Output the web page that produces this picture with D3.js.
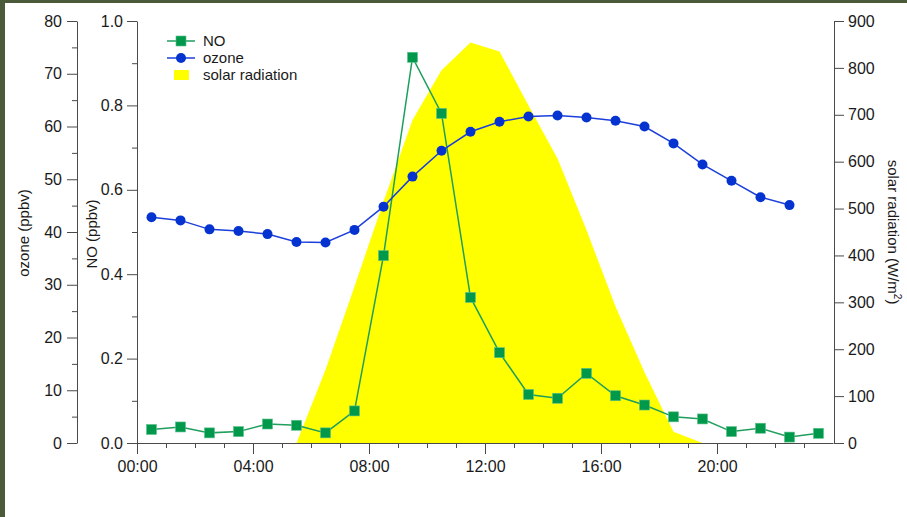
<!DOCTYPE html>
<html>
<head>
<meta charset="utf-8">
<script src="https://cdn.jsdelivr.net/npm/d3@7"></script>
<style>
  html, body { margin: 0; padding: 0; background: #ffffff; overflow: hidden; }
  svg { display: block; }
  text { font-family: "Liberation Sans", Arial, Helvetica, sans-serif; fill: #1a1a1a; }
  .axis path, .axis line { stroke: #4a4a4a; stroke-width: 1; }
</style>
</head>
<body>
<script>
// Hourly means, plotted at the half hour
const noHours = [0.5,1.5,2.5,3.5,4.5,5.5,6.5,7.5,8.5,9.5,10.5,11.5,12.5,13.5,14.5,15.5,16.5,17.5,18.5,19.5,20.5,21.5,22.5,23.5];
const noValues = [0.032,0.038,0.024,0.027,0.045,0.042,0.024,0.076,0.444,0.914,0.781,0.345,0.214,0.115,0.106,0.165,0.112,0.090,0.062,0.057,0.027,0.035,0.014,0.023];

const ozoneHours = [0.5,1.5,2.5,3.5,4.5,5.5,6.5,7.5,8.5,9.5,10.5,11.5,12.5,13.5,14.5,15.5,16.5,17.5,18.5,19.5,20.5,21.5,22.5];
const ozoneValues = [42.8,42.2,40.5,40.2,39.6,38.1,38.0,40.4,44.8,50.5,55.4,59.0,60.9,61.9,62.1,61.7,61.1,60.0,56.8,52.8,49.7,46.6,45.1];

const solarHours = [5.5,6.5,7.5,8.5,9.5,10.5,11.5,12.5,13.5,14.5,15.5,16.5,17.5,18.5,19.5];
const solarValues = [0,156,334,515,689,795,854,835,720,607,454,291,151,24,0];

const xTickHours = [0,4,8,12,16,20];
const xTickLabels = ["00:00","04:00","08:00","12:00","16:00","20:00"];
const ozoneTicks = [0,10,20,30,40,50,60,70,80];
const noTicks = [0.0,0.2,0.4,0.6,0.8,1.0];
const solarTicks = [0,100,200,300,400,500,600,700,800,900];

const W = 907, H = 517;
const plotLeft = 137, plotRight = 833, plotTop = 21, plotBottom = 443;

const svg = d3.select("body").append("svg").attr("width", W).attr("height", H);

// page frame strips
svg.append("rect").attr("x", 0).attr("y", 0).attr("width", W).attr("height", 3).attr("fill", "#4b5a39");
svg.append("rect").attr("x", 0).attr("y", 0).attr("width", 5).attr("height", H).attr("fill", "#4b5a39");

const x = d3.scaleLinear().domain([0, 24]).range([plotLeft, plotRight]);
const yNO = d3.scaleLinear().domain([0, 1]).range([plotBottom, plotTop]);
const yO3 = d3.scaleLinear().domain([0, 80]).range([plotBottom, plotTop]);
const ySol = d3.scaleLinear().domain([0, 900]).range([plotBottom, plotTop]);

// solar radiation filled area
svg.append("path")
  .datum(solarHours.map((h, i) => [h, solarValues[i]]))
  .attr("fill", "#ffff00")
  .attr("d", d3.area().x(d => x(d[0])).y0(plotBottom).y1(d => ySol(d[1])));

const fontSize = 16;
function styleAxis(g) {
  g.attr("class", "axis");
  g.selectAll("text").style("font-size", fontSize + "px");
  return g;
}

// x axis: hourly minor ticks, 4-hourly labelled ticks
svg.append("g").attr("transform", `translate(0,${plotBottom})`)
  .call(d3.axisBottom(x).tickValues(d3.range(0, 24, 1)).tickSize(5).tickFormat("").tickSizeOuter(0))
  .call(styleAxis);
svg.append("g").attr("transform", `translate(0,${plotBottom})`)
  .call(d3.axisBottom(x).tickValues(xTickHours).tickSize(11).tickPadding(7)
        .tickFormat((d, i) => xTickLabels[i]).tickSizeOuter(0))
  .call(styleAxis)
  .call(g => g.select(".domain").remove());

// NO axis
svg.append("g").attr("transform", `translate(${plotLeft},0)`)
  .call(d3.axisLeft(yNO).tickValues(d3.range(0.1, 1, 0.2)).tickSize(5).tickFormat("").tickSizeOuter(0))
  .call(styleAxis);
svg.append("g").attr("transform", `translate(${plotLeft},0)`)
  .call(d3.axisLeft(yNO).tickValues(noTicks).tickSize(10).tickPadding(4).tickFormat(d3.format(".1f")).tickSizeOuter(0))
  .call(styleAxis)
  .call(g => g.select(".domain").remove());

// ozone axis
const ozX = 77;
svg.append("g").attr("transform", `translate(${ozX},0)`)
  .call(d3.axisLeft(yO3).tickValues(d3.range(5, 80, 10)).tickSize(5).tickFormat("").tickSizeOuter(0))
  .call(styleAxis);
svg.append("g").attr("transform", `translate(${ozX},0)`)
  .call(d3.axisLeft(yO3).tickValues(ozoneTicks).tickSize(10).tickPadding(5).tickFormat(d3.format("d")).tickSizeOuter(0))
  .call(styleAxis)
  .call(g => g.select(".domain").remove());

// solar radiation axis
svg.append("g").attr("transform", `translate(${plotRight + 1},0)`)
  .call(d3.axisRight(ySol).tickValues(solarTicks).tickSize(10).tickPadding(4).tickFormat(d3.format("d")).tickSizeOuter(0))
  .call(styleAxis);

// axis titles
const titleSize = 15;
svg.append("text").attr("transform", `translate(29,233) rotate(-90)`)
  .attr("text-anchor", "middle").style("font-size", titleSize + "px").text("ozone (ppbv)");
svg.append("text").attr("transform", `translate(97,234) rotate(-90)`)
  .attr("text-anchor", "middle").style("font-size", titleSize + "px").text("NO (ppbv)");
const rt = svg.append("text").attr("transform", `translate(888,232) rotate(90)`)
  .attr("text-anchor", "middle").style("font-size", titleSize + "px");
rt.append("tspan").text("solar radiation (W/m");
rt.append("tspan").attr("dy", -6).style("font-size", "10px").text("2");
rt.append("tspan").attr("dy", 6).text(")");

// NO series
const noColor = "#1f9e5c", noFill = "#00994c";
const noData = noHours.map((h, i) => [h, noValues[i]]);
svg.append("path").datum(noData)
  .attr("fill", "none").attr("stroke", noColor).attr("stroke-width", 1.5)
  .attr("d", d3.line().x(d => x(d[0])).y(d => yNO(d[1])));
const sq = 10;
svg.selectAll(".noPt").data(noData).enter().append("rect")
  .attr("x", d => x(d[0]) - sq / 2).attr("y", d => yNO(d[1]) - sq / 2)
  .attr("width", sq).attr("height", sq)
  .attr("fill", noFill).attr("stroke", "#5cc08a").attr("stroke-width", 0.6);

// ozone series
const o3Color = "#1c3fdc", o3Fill = "#0533d0";
const o3Data = ozoneHours.map((h, i) => [h, ozoneValues[i]]);
svg.append("path").datum(o3Data)
  .attr("fill", "none").attr("stroke", o3Color).attr("stroke-width", 1.5)
  .attr("d", d3.line().x(d => x(d[0])).y(d => yO3(d[1])));
svg.selectAll(".o3Pt").data(o3Data).enter().append("circle")
  .attr("cx", d => x(d[0])).attr("cy", d => yO3(d[1])).attr("r", 5)
  .attr("fill", o3Fill);

// legend
const lg = svg.append("g");
const lx0 = 167, lx1 = 195, lxm = 181, ltx = 203;
lg.append("line").attr("x1", lx0).attr("x2", lx1).attr("y1", 41).attr("y2", 41)
  .attr("stroke", noColor).attr("stroke-width", 1.5);
lg.append("rect").attr("x", lxm - sq / 2).attr("y", 41 - sq / 2).attr("width", sq).attr("height", sq)
  .attr("fill", noFill).attr("stroke", "#5cc08a").attr("stroke-width", 0.6);
lg.append("text").attr("x", ltx).attr("y", 41).attr("dy", "0.35em").style("font-size", "15px").text("NO");
lg.append("line").attr("x1", lx0).attr("x2", lx1).attr("y1", 58).attr("y2", 58)
  .attr("stroke", o3Color).attr("stroke-width", 1.5);
lg.append("circle").attr("cx", lxm).attr("cy", 58).attr("r", 5).attr("fill", o3Fill);
lg.append("text").attr("x", ltx).attr("y", 58).attr("dy", "0.35em").style("font-size", "15px").text("ozone");
lg.append("rect").attr("x", 174).attr("y", 70).attr("width", 15).attr("height", 10).attr("fill", "#ffff00");
lg.append("text").attr("x", ltx).attr("y", 75).attr("dy", "0.35em").style("font-size", "15px").text("solar radiation");
</script>
</body>
</html>
